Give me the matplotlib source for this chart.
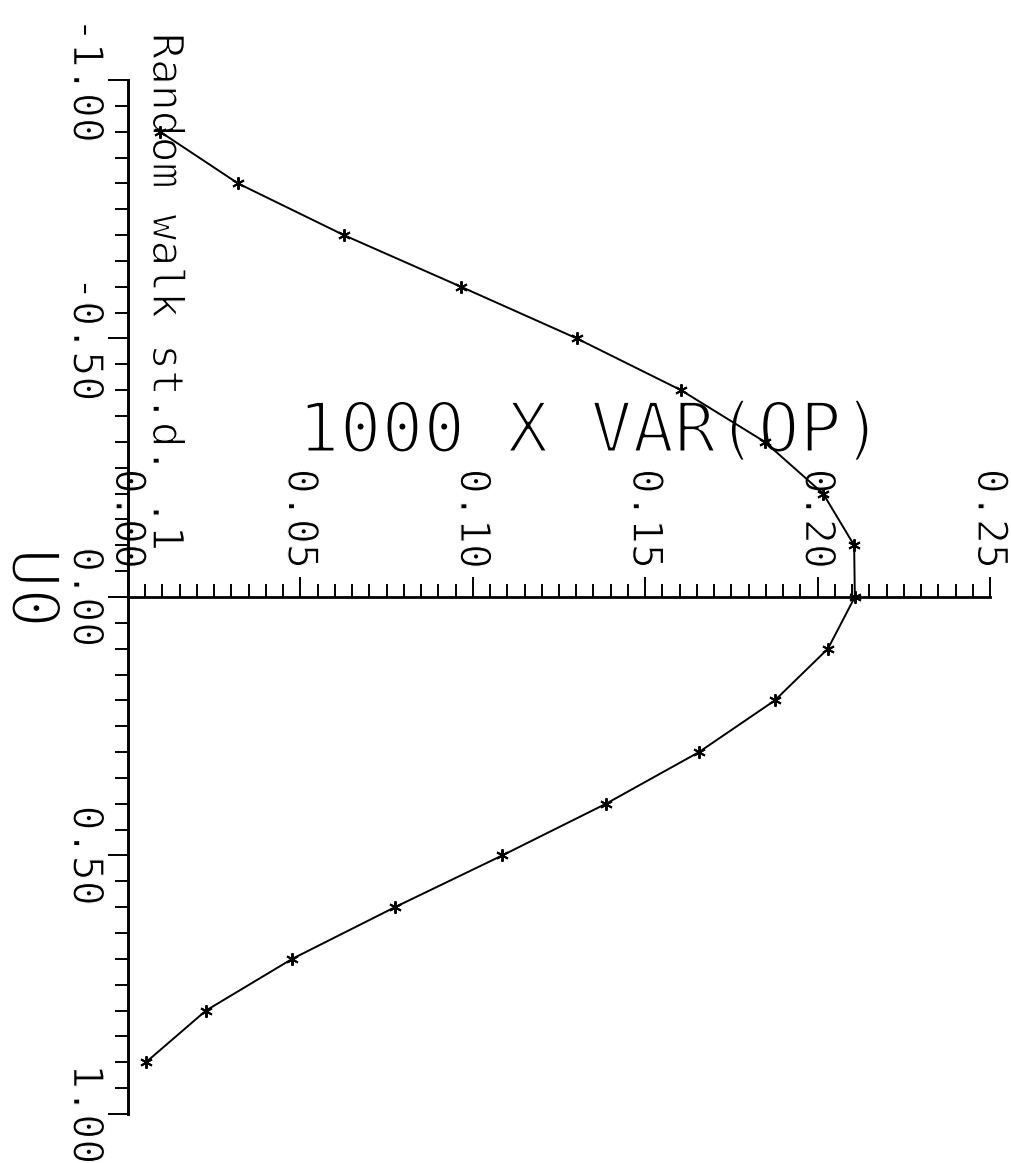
import matplotlib
matplotlib.use("Agg")
import matplotlib.pyplot as plt
import matplotlib.patheffects as pe
from matplotlib.ticker import FixedLocator, MultipleLocator

# U0 grid and the corresponding 1000 x VAR(OP)
u0 = [-0.9, -0.8, -0.7, -0.6, -0.5, -0.4, -0.3, -0.2, -0.1, 0.0,
      0.1, 0.2, 0.3, 0.4, 0.5, 0.6, 0.7, 0.8, 0.9]
var_op = [0.0093, 0.0319, 0.0626, 0.0966, 0.1302, 0.1604, 0.1847, 0.2016,
          0.2106, 0.2108, 0.2030, 0.1876, 0.1656, 0.1386, 0.1085, 0.0774,
          0.0476, 0.0226, 0.0052]

u0_ticks = [-1.0, -0.5, 0.0, 0.5, 1.0]
u0_ticklabels = ["-1.00", "-0.50", "0.00", "0.50", "1.00"]
var_ticks = [0.0, 0.05, 0.10, 0.15, 0.20, 0.25]
var_ticklabels = ["0.00", "0.05", "0.10", "0.15", "0.20", "0.25"]

title = "Random walk st.d. .1"
var_label = "1000 X VAR(OP)"
u0_label = "U0"

W, H = 1011, 1163
FONT = "DejaVu Sans Mono"


def thin(width):
    # erode glyph outlines for a pen-plotter look
    return [pe.Normal(), pe.Stroke(linewidth=width, foreground="white")]


fig = plt.figure(figsize=(W / 100, H / 100), dpi=100)
fig.patch.set_facecolor("white")

ax = fig.add_axes([128 / W, 1 - 1114 / H, (990 - 128) / W, (1114 - 80) / H])
ax.set_xlim(0.0, 0.25)
ax.set_ylim(1.0, -1.0)
ax.patch.set_visible(False)

for side in ("right", "bottom"):
    ax.spines[side].set_visible(False)
ax.spines["top"].set_position(("data", 0.0))
ax.spines["top"].set_linewidth(2.0)
ax.spines["left"].set_linewidth(2.1)

# VAR axis along U0 = 0, ticks pointing up
ax.xaxis.set_ticks_position("top")
ax.xaxis.set_major_locator(FixedLocator(var_ticks))
ax.xaxis.set_minor_locator(MultipleLocator(0.005))
ax.set_xticklabels(var_ticklabels, rotation=-90, fontsize=30, family=FONT,
                   ha="center", va="bottom")
ax.tick_params(axis="x", which="major", direction="out", length=14.4,
               width=1.4, pad=6)
ax.tick_params(axis="x", which="minor", direction="out", length=9.4, width=1.4)

# U0 axis on the left
ax.yaxis.set_ticks_position("left")
ax.yaxis.set_major_locator(FixedLocator(u0_ticks))
ax.yaxis.set_minor_locator(MultipleLocator(0.05))
ax.set_yticklabels(u0_ticklabels, rotation=-90, fontsize=30, family=FONT,
                   ha="right", va="center")
ax.tick_params(axis="y", which="major", direction="out", length=14.4,
               width=1.4, pad=1)
ax.tick_params(axis="y", which="minor", direction="out", length=9.4, width=1.4)

for lab in ax.get_xticklabels() + ax.get_yticklabels():
    lab.set_path_effects(thin(0.9))

ax.plot(var_op, u0, color="black", lw=1.4, marker=(6, 2, 0), ms=9,
        mew=1.4, zorder=5, clip_on=False)

# labels live in the axes so the curve is drawn over them
tf = fig.transFigure
ax.text(153 / W, 1 - 33 / H, title, transform=tf, rotation=-90,
        rotation_mode="anchor", ha="left", va="baseline", fontsize=31,
        family=FONT, path_effects=thin(1.0), zorder=3, clip_on=False)
ax.text(591 / W, 1 - 452 / H, var_label, transform=tf, ha="center",
        va="baseline", fontsize=50, family=FONT, path_effects=thin(2.2),
        zorder=3, clip_on=False)
ax.text(12 / W, 1 - 588 / H, u0_label, transform=tf, rotation=-90,
        rotation_mode="anchor", ha="center", va="baseline", fontsize=48,
        family=FONT, path_effects=thin(2.2), zorder=3, clip_on=False)

fig.savefig("out.png", dpi=100, facecolor="white")
